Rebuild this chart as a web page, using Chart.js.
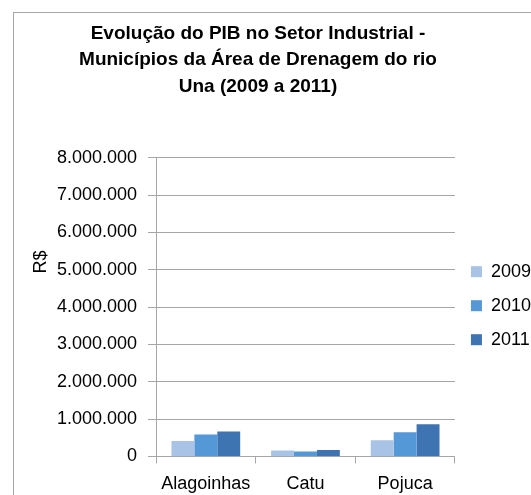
<!DOCTYPE html>
<html>
<head>
<meta charset="utf-8">
<script src="https://cdn.jsdelivr.net/npm/chart.js@4"></script>
<style>
  body { margin: 0; background: #fff; overflow: hidden; }
  #wrap { position: relative; width: 531px; height: 495px; }
  #frame { position: absolute; left: 13px; top: 12px; width: 600px; height: 600px;
           border-left: 1px solid #a6a6a6; border-top: 1px solid #a6a6a6; pointer-events: none; }
</style>
</head>
<body>
<div id="wrap">
  <canvas id="pibChart" width="531" height="495"></canvas>
  <div id="frame"></div>
</div>
<script>
// PIB industrial (R$) por município
const municipios = ['Alagoinhas', 'Catu', 'Pojuca'];
const anos = ['2009', '2010', '2011'];
const pib2009 = [410000, 160000, 430000];
const pib2010 = [590000, 130000, 650000];
const pib2011 = [670000, 170000, 860000];
const cores = ['#a9c3e6', '#5598d8', '#3e74b2'];

const fonte = 'Liberation Sans, Arial, sans-serif';

// eixo "R$" desenhado à parte, como no Excel
const rotuloEixo = {
    id: 'rotuloEixo',
    afterDraw(chart) {
        const ctx = chart.ctx;
        ctx.save();
        ctx.translate(41, 262);
        ctx.rotate(-Math.PI / 2);
        ctx.font = '18px ' + fonte;
        ctx.fillStyle = '#000';
        ctx.textAlign = 'center';
        ctx.textBaseline = 'middle';
        ctx.fillText('R$', 0, 0);
        ctx.restore();
    }
};

const ctx = document.getElementById('pibChart').getContext('2d');
new Chart(ctx, {
    type: 'bar',
    data: {
        labels: municipios,
        datasets: [
            { label: anos[0], data: pib2009, backgroundColor: cores[0] },
            { label: anos[1], data: pib2010, backgroundColor: cores[1] },
            { label: anos[2], data: pib2011, backgroundColor: cores[2] }
        ]
    },
    options: {
        responsive: false,
        animation: false,
        categoryPercentage: 0.69,
        barPercentage: 1,
        layout: { padding: { left: -25, right: -10, top: 0, bottom: -10 } },
        plugins: {
            title: {
                display: true,
                text: ['Evolução do PIB no Setor Industrial -', 'Municípios da Área de Drenagem do rio', 'Una (2009 a 2011)'],
                color: '#000',
                font: { family: fonte, size: 19, weight: 'bold', lineHeight: 1.4 },
                padding: { top: 20, bottom: 58 }
            },
            legend: {
                position: 'right',
                title: { display: true, text: '', padding: 46 },
                labels: {
                    color: '#000',
                    font: { family: fonte, size: 18 },
                    boxWidth: 11,
                    boxHeight: 11,
                    padding: 16
                }
            },
            tooltip: { enabled: false }
        },
        scales: {
            x: {
                grid: { drawOnChartArea: false, offset: true, tickLength: 7, color: '#a6a6a6' },
                border: { color: '#a6a6a6' },
                ticks: { color: '#000', font: { family: fonte, size: 18 }, padding: 10, maxRotation: 0, autoSkip: false }
            },
            y: {
                min: 0,
                max: 8000000,
                afterFit: s => { s.width = 181; },
                grid: { color: '#a6a6a6', tickLength: 8 },
                border: { color: '#a6a6a6' },
                ticks: {
                    stepSize: 1000000,
                    color: '#000',
                    font: { family: fonte, size: 18 },
                    padding: 11,
                    callback: v => v.toLocaleString('pt-BR')
                }
            }
        }
    },
    plugins: [rotuloEixo]
});
</script>
</body>
</html>
